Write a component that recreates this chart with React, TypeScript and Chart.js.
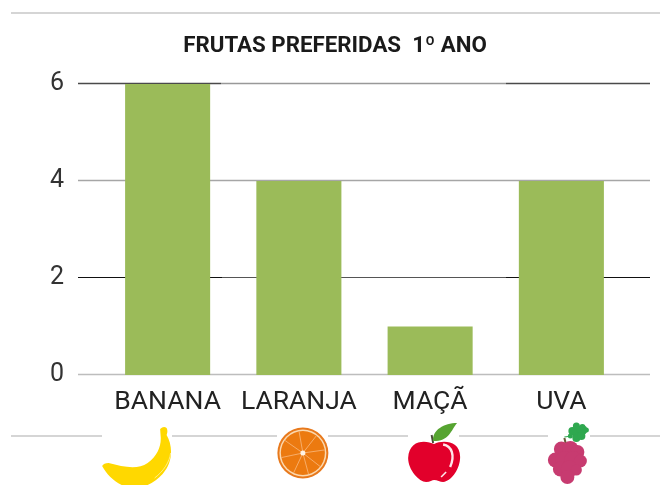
import React, { useEffect, useRef } from "react";
import { Chart, registerables } from "chart.js";

Chart.register(...registerables);

const titleText = "FRUTAS PREFERIDAS  1º ANO";
const categories = ["BANANA", "LARANJA", "MAÇÃ", "UVA"];
const values = [6, 4, 1, 4];
const yTicks = [0, 2, 4, 6];
const barColor = "#9BBB59";
const ruleColor = "#ABABAB";
// value, [x from, x to, colour, width] pieces of each horizontal grid line
const gridPieces: Record<number, [number, number, string, number][]> = {
  6: [[78, 221, "#4A4A4A", 1.6], [221, 506, "#999999", 1.4], [506, 650, "#4A4A4A", 1.6]],
  4: [[78, 650, "#A6A6A6", 1.6]],
  2: [[78, 222, "#111111", 1], [222, 506, "#555555", 1], [506, 650, "#111111", 1]],
  0: [[78, 650, "#BDBDBD", 1.6]],
};
const topRule = [[11, 660]];
const bottomRule = [[11, 102], [172, 277], [328, 408], [459, 548], [590, 660]];
const topRuleY = 13;
const bottomRuleY = 436;

function drawBanana(c: CanvasRenderingContext2D, x: number) {
  c.save();
  c.translate(x, 0);
  c.fillStyle = "#FFD800";
  c.beginPath();
  c.moveTo(-7.5, 429);
  c.quadraticCurveTo(-4, 425.5, -1, 428);
  c.quadraticCurveTo(0.5, 431, -1, 435);
  c.bezierCurveTo(5, 445, 6, 462, -5, 474);
  c.bezierCurveTo(-14, 484, -24, 488, -36, 488);
  c.bezierCurveTo(-50, 486, -60, 476, -65.5, 466);
  c.quadraticCurveTo(-64, 463, -59, 463);
  c.bezierCurveTo(-44, 467, -30, 470, -20, 463);
  c.bezierCurveTo(-10, 456, -6, 445, -7, 436);
  c.closePath();
  c.fill();
  c.strokeStyle = "#FFF3A6";
  c.lineWidth = 0.8;
  c.beginPath();
  c.moveTo(3, 453);
  c.bezierCurveTo(2, 462, -4, 471, -13, 478);
  c.stroke();
  c.restore();
}

function drawOrange(c: CanvasRenderingContext2D, x: number) {
  const cx = x + 4;
  const cy = 453;
  c.save();
  c.fillStyle = "#E8791C";
  c.beginPath();
  c.arc(cx, cy, 25.5, 0, Math.PI * 2);
  c.fill();
  c.fillStyle = "#FBD9B0";
  c.beginPath();
  c.arc(cx, cy, 23.5, 0, Math.PI * 2);
  c.fill();
  c.fillStyle = "#EC7A10";
  c.beginPath();
  c.arc(cx, cy, 22, 0, Math.PI * 2);
  c.fill();
  c.strokeStyle = "#F7B273";
  c.lineWidth = 0.9;
  [-100, -52, -8, 38, 75, 115, 168, 215].forEach((deg) => {
    const a = (deg * Math.PI) / 180;
    c.beginPath();
    c.moveTo(cx, cy);
    c.lineTo(cx + 22 * Math.cos(a), cy + 22 * Math.sin(a));
    c.stroke();
  });
  c.fillStyle = "#FFF4E6";
  c.beginPath();
  c.arc(cx, cy, 2.5, 0, Math.PI * 2);
  c.fill();
  c.restore();
}

function drawApple(c: CanvasRenderingContext2D, x: number) {
  c.save();
  c.translate(x + 4, 0);
  c.strokeStyle = "#4A4A3A";
  c.lineWidth = 2;
  c.beginPath();
  c.moveTo(-2.5, 435);
  c.lineTo(-1, 443);
  c.stroke();
  c.fillStyle = "#56A431";
  c.beginPath();
  c.moveTo(-1, 441);
  c.bezierCurveTo(-2, 430, 10, 423, 23, 423);
  c.bezierCurveTo(18, 428, 16, 440, 2, 441);
  c.closePath();
  c.fill();
  c.fillStyle = "#E2002B";
  c.beginPath();
  c.moveTo(0, 444);
  c.bezierCurveTo(-8, 440, -25, 439, -26, 458);
  c.bezierCurveTo(-26, 470, -15, 482, -8, 482);
  c.bezierCurveTo(-4, 482, -2, 480, 0, 480);
  c.bezierCurveTo(3, 480, 6, 482, 9, 482);
  c.bezierCurveTo(18, 481, 26, 468, 26, 457);
  c.bezierCurveTo(26, 440, 8, 440, 0, 444);
  c.closePath();
  c.fill();
  c.strokeStyle = "#FFE6EA";
  c.lineWidth = 2.4;
  c.beginPath();
  c.moveTo(9, 444.5);
  c.bezierCurveTo(18, 446, 21, 456, 16, 467);
  c.stroke();
  c.lineWidth = 1.6;
  c.beginPath();
  c.moveTo(12, 472);
  c.lineTo(7, 477);
  c.stroke();
  c.restore();
}

function drawGrapes(c: CanvasRenderingContext2D, x: number) {
  c.save();
  c.translate(x + 6, 0);
  c.strokeStyle = "#6B5B3A";
  c.lineWidth = 2;
  c.beginPath();
  c.moveTo(-3, 438);
  c.lineTo(-1, 446);
  c.stroke();
  c.fillStyle = "#2FA84F";
  const leaf = [
    [10, 432, 6], [5, 431, 4], [15, 430, 5], [9, 426, 3.5], [15, 427, 3], [19, 430, 2.5], [9, 438, 4], [14, 436, 4], [3, 436, 2.5],
  ];
  leaf.forEach(([lx, ly, r]) => {
    c.beginPath();
    c.arc(lx, ly, r, 0, Math.PI * 2);
    c.fill();
  });
  c.strokeStyle = "#2FA84F";
  c.lineWidth = 1.2;
  c.beginPath();
  c.moveTo(-3, 437);
  c.lineTo(4, 436);
  c.stroke();
  const grapes = [
    [-6, 449, 7.5], [3, 449, 8], [10, 452, 7], [-12, 460, 7.5], [-3, 460, 9],
    [6, 460, 9], [13, 461, 6.5], [-7, 469, 7.5], [2, 469, 8.5], [9, 470, 5.5], [0, 477, 7],
  ];
  c.fillStyle = "#C73B70";
  grapes.forEach(([gx, gy, r]) => {
    c.beginPath();
    c.arc(gx, gy, r, 0, Math.PI * 2);
    c.fill();
  });
  c.restore();
}

const icons = [drawBanana, drawOrange, drawApple, drawGrapes];

const decorations = {
  id: "decorations",
  beforeDatasetsDraw(chart: any) {
    const c: CanvasRenderingContext2D = chart.ctx;
    const y = chart.scales.y;
    c.save();
    yTicks.forEach((v) => {
      const py = Math.round(y.getPixelForValue(v)) - 0.5;
      gridPieces[v].forEach(([a, b, col, w]) => {
        c.strokeStyle = col;
        c.lineWidth = w;
        c.beginPath();
        c.moveTo(a, py);
        c.lineTo(b, py);
        c.stroke();
      });
    });
    c.restore();
  },
  afterDraw(chart: any) {
    const c: CanvasRenderingContext2D = chart.ctx;
    c.save();
    c.strokeStyle = ruleColor;
    c.lineWidth = 1.2;
    topRule.forEach(([a, b]) => {
      c.beginPath();
      c.moveTo(a, topRuleY);
      c.lineTo(b, topRuleY);
      c.stroke();
    });
    bottomRule.forEach(([a, b]) => {
      c.beginPath();
      c.moveTo(a, bottomRuleY);
      c.lineTo(b, bottomRuleY);
      c.stroke();
    });
    c.restore();
    const x = chart.scales.x;
    icons.forEach((draw, i) => draw(c, x.getPixelForValue(i)));
  },
};

export default function App() {
  const ref = useRef<HTMLCanvasElement>(null);
  useEffect(() => {
    document.body.style.margin = "0";
    document.body.style.background = "#ffffff";
    const chart = new Chart(ref.current!, {
      type: "bar",
      data: {
        labels: categories,
        datasets: [
          {
            data: values,
            backgroundColor: barColor,
            borderWidth: 0,
            barPercentage: 0.648,
            categoryPercentage: 1,
          },
        ],
      },
      plugins: [decorations],
      options: {
        responsive: false,
        animation: false,
        layout: { padding: { left: 10, right: 0, top: 0, bottom: 0 } },
        plugins: {
          legend: { display: false },
          tooltip: { enabled: false },
          title: {
            display: true,
            text: titleText,
            color: "#1A1A1A",
            font: { family: "Roboto", size: 22.3, weight: "bold" },
            padding: { top: 33.5, bottom: 23.7 },
          },
        },
        scales: {
          x: {
            grid: { display: false, drawTicks: false },
            border: { display: false },
            ticks: {
              color: "#222222",
              font: { family: "Roboto", size: 26.5 },
              padding: 11,
              maxRotation: 0,
              autoSkip: false,
            },
            afterFit(s: any) {
              s.height = 110;
            },
          },
          y: {
            min: 0,
            max: 6,
            grid: { display: false, drawTicks: false },
            border: { display: false },
            ticks: {
              stepSize: 2,
              color: "#333333",
              font: { family: "Roboto", size: 25 },
              padding: 38,
            },
            afterFit(s: any) {
              s.width = 92;
            },
          },
          y2: {
            display: true,
            position: "right",
            grid: { display: false, drawTicks: false },
            border: { display: false },
            ticks: { display: false },
            afterFit(s: any) {
              s.width = 33;
            },
          },
        },
      },
    } as any);
    return () => chart.destroy();
  }, []);
  return <canvas ref={ref} width={660} height={485} style={{ display: "block" }} />;
}
